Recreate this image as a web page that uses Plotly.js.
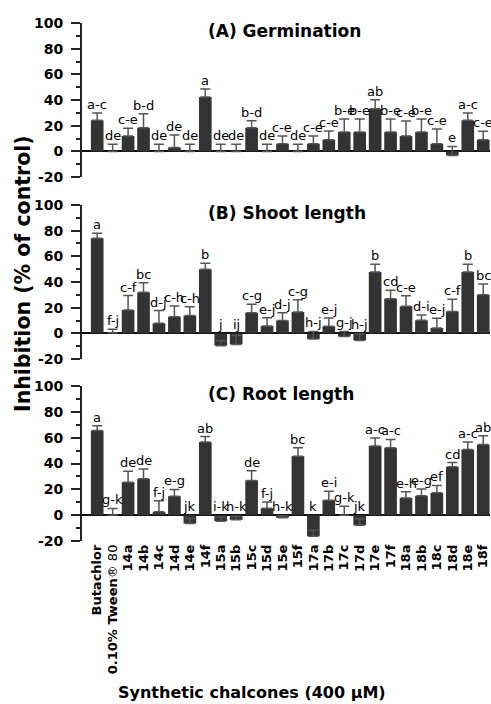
<!DOCTYPE html>
<html><head><meta charset="utf-8">
<script src="https://cdn.plot.ly/plotly-3.0.1.min.js"></script>
<style>html,body{margin:0;padding:0;background:#fff}</style>
</head><body><div id="chart" style="width:491px;height:704px"></div>
<script>
const categories = ['Butachlor','0.10% Tween® 80','14a','14b','14c','14d','14e','14f','15a','15b','15c','15d','15e','15f','17a','17b','17c','17d','17e','17f','18a','18b','18c','18d','18e','18f'];
const tickLabels = ['Butachlor',"0.10% Tween<span style='font-weight:normal'>® 80</span>",'14a','14b','14c','14d','14e','14f','15a','15b','15c','15d','15e','15f','17a','17b','17c','17d','17e','17f','18a','18b','18c','18d','18e','18f'];

const germination = [24.2, 0, 12, 18.4, 0, 3.1, 0, 42.3, 0, 0, 18.4, 0, 6, 0, 6, 9.1, 15.1, 15.1, 33.2, 15.1, 12, 15.1, 6, -3.1, 24.2, 9.1];
const germErr = [5.7, 5.5, 6, 11, 5.5, 9.6, 5.5, 6.3, 5.5, 5.5, 5.5, 5.5, 6, 5.5, 6, 6.8, 10.1, 10.1, 7, 10.1, 11.6, 10.1, 11.4, 7, 5.7, 6.7];
const germLetters = ['a-c','de','c-e','b-d','de','de','de','a','de','de','b-d','de','c-e','de','c-e','c-e','b-e','b-e','ab','b-e','c-e','b-e','c-e','e','a-c','c-e'];

const shoot = [74, 0.5, 18.2, 31.9, 7.8, 13, 13.8, 49.9, -9.6, -8.6, 16.1, 5.7, 10, 16.6, -4.5, 5.5, -2.5, -5.5, 47.8, 27, 21, 10.1, 4.2, 17.1, 47.8, 30.1];
const shootErr = [3.9, 2.6, 11.2, 7.5, 9.9, 8.3, 7, 4.7, 3.9, 7, 6.5, 6.5, 6, 9.6, 6, 6.5, 4, 5, 6, 6.5, 8.3, 4.2, 7.5, 9.4, 6, 8.3];
const shootLetters = ['a','f-j','c-f','bc','d-j','c-h','c-h','b','j','ij','c-g','e-j','d-j','c-g','h-j','e-j','g-j','h-j','b','cd','c-e','d-i','e-j','c-f','b','bc'];

const root = [65.6, 0, 25.6, 28.2, 2.6, 14.7, -6.5, 56.8, -4.6, -3.6, 26.9, 5.4, -2, 45.7, -16.3, 11.6, 0, -7.8, 53.7, 52.2, 13.4, 15, 17.3, 37.5, 50.9, 54.8];
const rootErr = [3.6, 5.2, 8.5, 7.5, 8.5, 5.2, 4, 4.1, 3, 2.5, 7.5, 4.9, 1.5, 6.5, 4.7, 7, 7, 5, 6.2, 6.5, 4.7, 5.2, 5.7, 3.3, 5.9, 6.7];
const rootLetters = ['a','g-k','de','de','f-j','e-g','jk','ab','i-k','h-k','de','f-j','h-k','bc','k','e-i','g-k','jk','a-c','a-c','e-h','e-g','ef','cd','a-c','ab'];

const panelTitles = ['(A) Germination','(B) Shoot length','(C) Root length'];
const yTickVals = [-20, 0, 20, 40, 60, 80, 100];
const yTickText = ['-20','0','20','40','60','80','100'];
const yTitle = 'Inhibition (% of control)';
const xTitle = 'Synthetic chalcones (400 μM)';

const FONT = 'DejaVu Sans, sans-serif';
const panels = [
  {vals: germination, err: germErr, letters: germLetters},
  {vals: shoot, err: shootErr, letters: shootLetters},
  {vals: root, err: rootErr, letters: rootLetters}
];
const domains = [[0.7025, 1], [0.3513, 0.6488], [0, 0.2990]];

const traces = [];
const annotations = [];
const layout = {
  width: 491, height: 704,
  margin: {l: 82, r: 1, t: 23, b: 163},
  paper_bgcolor: '#fff', plot_bgcolor: '#fff',
  showlegend: false, bargap: 0.18,
  font: {family: FONT, color: '#000'}
};

panels.forEach((p, i) => {
  const sfx = i === 0 ? '' : String(i + 1);
  traces.push({
    type: 'bar', x: categories, y: p.vals,
    xaxis: 'x' + sfx, yaxis: 'y' + sfx,
    marker: {color: '#333333', line: {width: 0}},
    error_y: {type: 'data', symmetric: false, array: p.err, arrayminus: p.err.map(() => 0),
              color: '#555555', thickness: 1.5, width: 5},
    hoverinfo: 'skip'
  });
  layout['xaxis' + sfx] = {
    type: 'category', range: [-0.985, 25.44], anchor: 'y' + sfx, domain: [0, 1],
    showline: false, ticks: '', showgrid: false, zeroline: false,
    showticklabels: i === 2,
    tickmode: 'array', tickvals: categories, ticktext: tickLabels,
    tickangle: -90, tickfont: {family: FONT, size: 13, weight: 'bold', color: '#000'}
  };
  layout['yaxis' + sfx] = {
    range: [-20, 100], anchor: 'x' + sfx, domain: domains[i],
    tickmode: 'array', tickvals: yTickVals, ticktext: yTickText,
    ticks: 'outside', ticklen: 9, tickwidth: 2, tickcolor: '#222',
    showline: true, linewidth: 2, linecolor: '#222',
    showgrid: false, zeroline: true, zerolinecolor: '#111', zerolinewidth: 2,
    minor: {tickmode: 'linear', tick0: 0, dtick: 10, ticks: 'outside', ticklen: 4, tickwidth: 2, tickcolor: '#222', showgrid: false},
    tickfont: {family: FONT, size: 14, weight: 'bold', color: '#000'},
    ticklabelstandoff: 5
  };
  annotations.push({
    text: panelTitles[i], xref: 'x' + sfx + ' domain', yref: 'y' + sfx + ' domain',
    x: 0.305, y: 1, xanchor: 'left', yanchor: 'middle', yshift: -8, showarrow: false,
    font: {family: FONT, size: 17, weight: 'bold', color: '#000'}
  });
  p.letters.forEach((t, k) => {
    annotations.push({
      text: t, xref: 'x' + sfx, yref: 'y' + sfx,
      x: categories[k], y: Math.max(p.vals[k] + p.err[k], 0),
      xanchor: 'center', yanchor: 'bottom', showarrow: false, borderpad: 0,
      font: {family: FONT, size: 13, color: '#000'}
    });
  });
});

annotations.push({
  text: yTitle, xref: 'paper', yref: 'paper', x: -0.1446, y: 0.5155,
  xanchor: 'center', yanchor: 'middle', textangle: -90, showarrow: false,
  font: {family: FONT, size: 20.5, weight: 'bold', color: '#000'}
});
annotations.push({
  text: xTitle, xref: 'paper', yref: 'paper', x: 0.4174, y: -0.2931,
  xanchor: 'center', yanchor: 'middle', showarrow: false,
  font: {family: FONT, size: 16, weight: 'bold', color: '#000'}
});
layout.annotations = annotations;

Plotly.newPlot('chart', traces, layout, {staticPlot: true, displayModeBar: false});
</script></body></html>
